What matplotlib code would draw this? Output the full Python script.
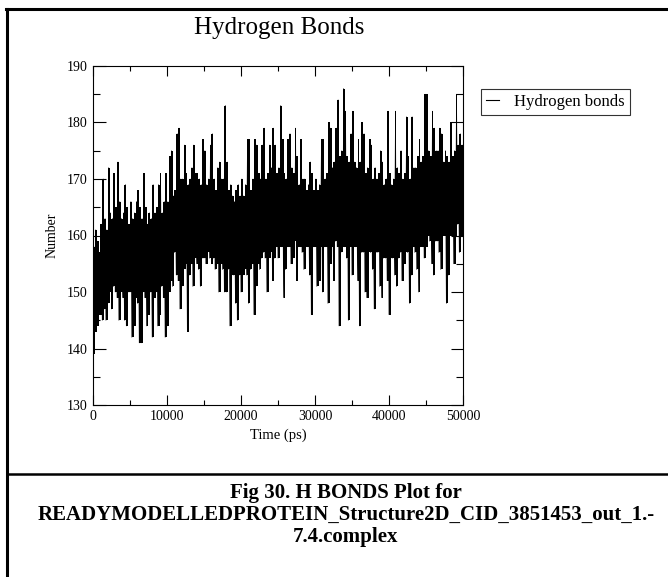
import numpy as np
import matplotlib
matplotlib.use("Agg")
import matplotlib.pyplot as plt
from matplotlib.ticker import MultipleLocator

# 250 ps bins, lowest / highest H-bond count per bin
bin_start = np.arange(0, 50000, 250)
bin_width = 250

hb_high = [158, 161, 159, 157, 162, 170, 163, 161, 172, 164, 163, 171, 165, 173, 166, 163, 164, 169, 165, 162,
           166, 163, 164, 166, 168, 165, 163, 171, 165, 162, 164, 163, 169, 164, 165, 169, 171, 164, 166, 171,
           166, 174, 175, 167, 168, 178, 179, 170, 170, 176, 171, 169, 170, 172, 176, 171, 171, 170, 169, 177,
           175, 169, 170, 176, 178, 170, 168, 172, 173, 170, 170, 183, 173, 168, 169, 167, 166, 168, 169, 167,
           170, 167, 169, 177, 177, 168, 170, 177, 176, 171, 170, 176, 179, 170, 171, 176, 172, 179, 176, 171,
           172, 183, 177, 171, 170, 177, 178, 172, 171, 179, 174, 169, 177, 170, 170, 168, 169, 173, 171, 168,
           170, 168, 169, 177, 177, 170, 171, 180, 179, 172, 173, 179, 184, 174, 175, 186, 182, 174, 173, 178,
           182, 173, 172, 177, 173, 180, 178, 171, 172, 177, 176, 170, 172, 170, 171, 175, 173, 169, 170, 182,
           171, 169, 170, 182, 172, 171, 175, 170, 171, 181, 174, 170, 181, 172, 172, 174, 177, 173, 174, 185,
           185, 175, 174, 182, 179, 175, 175, 179, 178, 173, 175, 174, 173, 180, 174, 175, 185, 176, 178, 176]

hb_low = [139, 143, 144, 146, 146, 145, 147, 145, 148, 150, 147, 151, 150, 149, 145, 150, 149, 145, 144, 150,
          150, 142, 144, 149, 148, 141, 141, 150, 149, 144, 146, 150, 142, 149, 150, 144, 146, 151, 149, 142,
          144, 150, 152, 151, 157, 153, 152, 147, 151, 154, 155, 143, 153, 155, 151, 156, 155, 154, 151, 156,
          156, 155, 157, 156, 155, 156, 154, 155, 150, 155, 154, 150, 150, 154, 144, 153, 153, 148, 145, 153,
          150, 153, 154, 153, 148, 154, 155, 146, 151, 155, 154, 156, 157, 156, 150, 156, 157, 152, 156, 158,
          156, 158, 158, 149, 154, 158, 158, 155, 156, 159, 152, 158, 158, 157, 154, 158, 158, 153, 146, 158,
          158, 151, 152, 158, 150, 158, 158, 148, 155, 158, 152, 159, 158, 144, 157, 158, 158, 156, 145, 158,
          153, 158, 158, 152, 144, 157, 157, 150, 149, 157, 157, 154, 147, 157, 157, 151, 149, 156, 156, 152,
          146, 156, 156, 153, 151, 156, 157, 152, 155, 157, 157, 148, 153, 158, 157, 154, 150, 158, 158, 156,
          158, 160, 159, 155, 153, 159, 159, 157, 154, 160, 160, 148, 153, 160, 160, 155, 160, 162, 157, 160]

plt.rcParams['font.family'] = ['Liberation Serif', 'DejaVu Serif']

fig = plt.figure(figsize=(6.68, 5.77), dpi=100)
W, H = 668, 577
ax = fig.add_axes([93 / W, 1 - 405 / H, 370 / W, 339 / H])

# each bin drawn as a solid bar from its low to its high value
edges = np.append(bin_start, bin_start[-1] + bin_width)
ax.fill_between(edges, np.append(hb_low, hb_low[-1]), np.append(hb_high, hb_high[-1]),
                step='post', color='black', lw=0)
# thin zig-zag trace through the same values
t_line = np.column_stack([bin_start, bin_start + bin_width / 2]).ravel()
v_line = np.column_stack([hb_low, hb_high]).ravel()
ax.plot(t_line, v_line, color='black', lw=0.5, label='Hydrogen bonds')

ax.set_xlim(0, 50000)
ax.set_ylim(130, 190)
ax.xaxis.set_major_locator(MultipleLocator(10000))
ax.xaxis.set_minor_locator(MultipleLocator(5000))
ax.yaxis.set_major_locator(MultipleLocator(10))
ax.yaxis.set_minor_locator(MultipleLocator(5))
ax.tick_params(which='both', direction='in', top=True, right=True,
               labelsize=10, colors='black', width=0.8)
ax.tick_params(axis='x', which='major', length=7, pad=3.5)
ax.tick_params(axis='x', which='minor', length=3.6)
ax.tick_params(axis='y', which='major', length=9, pad=4)
ax.tick_params(axis='y', which='minor', length=5)
for s in ax.spines.values():
    s.set_linewidth(0.8)

ax.set_xlabel('Time (ps)', fontsize=10.5, labelpad=4)
ax.set_ylabel('Number', fontsize=10, labelpad=6)

fig.text(279 / W, 1 - 28 / H, 'Hydrogen Bonds', ha='center', va='center', fontsize=18)

leg = fig.legend(loc='upper left', bbox_to_anchor=(481 / W, 1 - 89 / H),
                 fontsize=12, frameon=True, fancybox=False, borderaxespad=0,
                 handlelength=0.8, handletextpad=0.9, borderpad=0.3)
leg.get_frame().set_edgecolor('black')
leg.get_frame().set_linewidth(0.8)
leg.get_lines()[0].set_linewidth(0.8)

# page frame and separator
fig.add_artist(plt.Line2D([7 / W, 7 / W], [0, 1 - 9 / H], transform=fig.transFigure,
                          color='black', lw=2.2))
fig.add_artist(plt.Line2D([6 / W, 1], [1 - 9 / H, 1 - 9 / H], transform=fig.transFigure,
                          color='black', lw=2.2))
fig.add_artist(plt.Line2D([7 / W, 1], [1 - 473.5 / H, 1 - 473.5 / H], transform=fig.transFigure,
                          color='black', lw=1.8))

cap = dict(ha='center', va='center', fontsize=15, fontweight='bold')
fig.text(346 / W, 1 - 493 / H, 'Fig 30. H BONDS Plot for', **cap)
fig.text(346 / W, 1 - 515 / H, 'READYMODELLEDPROTEIN_Structure2D_CID_3851453_out_1.-', **cap)
fig.text(346 / W, 1 - 537 / H, '7.4.complex', **cap)

fig.savefig('out.png', dpi=100)
